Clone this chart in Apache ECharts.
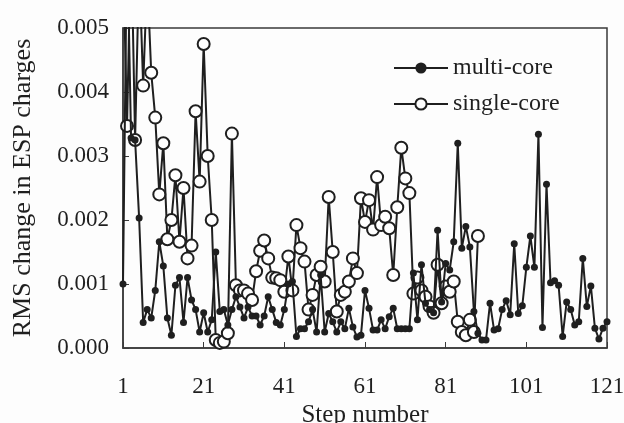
<!DOCTYPE html>
<html>
<head>
<meta charset="utf-8">
<script src="https://cdn.jsdelivr.net/npm/echarts@6/dist/echarts.min.js"></script>
<style>
  html, body { margin: 0; padding: 0; background: #fdfdfd; }
  #chart { width: 624px; height: 423px; }
</style>
</head>
<body>
<div id="chart"></div>
<script>
// RMS change per step (above 0.005 gets clipped)
var multiCore = [
  0.001, 0.0065, 0.00328, 0.00325, 0.00203, 0.0004, 0.0006, 0.00047, 0.0009, 0.00166,
  0.00128, 0.00047, 0.0002, 0.00098, 0.0011, 0.0004, 0.0011, 0.00075, 0.0006, 0.00025,
  0.00055, 0.00025, 0.00044, 0.0015, 0.00057, 0.0006, 0.00036, 0.0006, 0.0008, 0.00064,
  0.00047, 0.00064, 0.0005, 0.0005, 0.00036, 0.0005, 0.0008, 0.0006, 0.0004, 0.00036,
  0.0006, 0.001, 0.00104, 0.00018, 0.0003, 0.0003, 0.00041, 0.0006, 0.00025, 0.00114,
  0.00025, 0.00054, 0.00041, 0.00025, 0.00041, 0.0003, 0.00062, 0.00033, 0.00017, 0.0002,
  0.0009, 0.00062, 0.00028, 0.00028, 0.00044, 0.0003, 0.00049, 0.00062, 0.0003, 0.0003,
  0.0003, 0.0003, 0.00117, 0.00044, 0.0013, 0.0007, 0.0006, 0.00055, 0.00184, 0.00072,
  0.00132, 0.00122, 0.00166, 0.0032, 0.00156, 0.0019, 0.00158, 0.00057, 0.00023, 0.000125,
  0.000125, 0.0007, 0.00028, 0.0003, 0.0006, 0.00074, 0.00052, 0.00163, 0.00054, 0.00066,
  0.00126, 0.00175, 0.00126, 0.00334, 0.00032, 0.00256, 0.00102, 0.00105, 0.00098, 0.00018,
  0.00072, 0.0006, 0.00036, 0.00041, 0.0014, 0.00065, 0.00097, 0.00031, 0.00014, 0.00031,
  0.00041
];
var singleCore = [
  0.0062, 0.00347, 0.0065, 0.00325, 0.006, 0.0041, 0.0058, 0.0043, 0.0036, 0.0024,
  0.0032, 0.0017, 0.002, 0.0027, 0.00166, 0.0025, 0.0014, 0.0016, 0.0037, 0.0026,
  0.00475, 0.003, 0.002, 0.000125, 0.00008, 0.0001, 0.00023, 0.00335, 0.00098, 0.0009,
  0.0009, 0.00085, 0.00075, 0.0012, 0.00152, 0.00168, 0.0014, 0.0011, 0.00109, 0.00106,
  0.00088, 0.00143, 0.0009, 0.00192, 0.00156, 0.00135, 0.0006, 0.00083, 0.00114, 0.00127,
  0.00104, 0.00236, 0.0015, 0.00057, 0.00083, 0.00088, 0.00104, 0.0014, 0.00117, 0.00234,
  0.00197, 0.00231, 0.00185, 0.00267, 0.00192, 0.00205, 0.00187, 0.00114, 0.0022, 0.00313,
  0.00265, 0.00242, 0.00085, 0.0011, 0.0009, 0.0008, 0.00065, 0.00055, 0.0013, 0.0007,
  0.00096, 0.00088, 0.00104, 0.00041, 0.00025, 0.0002, 0.00044, 0.00025, 0.00175
];
var seriesNames = ['multi-core', 'single-core'];
var xTicks = [1, 21, 41, 61, 81, 101, 121];
var yTicks = [0, 0.001, 0.002, 0.003, 0.004, 0.005];

var FONT = '"Liberation Serif", "DejaVu Serif", serif';
var INK = '#1f1f1f';

function toPoints (arr) {
  return arr.map(function (v, i) { return [i + 1, v]; });
}

var myChart = echarts.init(document.getElementById('chart'));
var option = {
  backgroundColor: '#fdfdfd',
  animation: false,
  grid: {
    left: 123, right: 17, top: 28, bottom: 75,
    outerBoundsMode: 'none',
    containLabel: false,
    show: true,
    borderColor: '#3a3a3a',
    borderWidth: 1.5
  },
  legend: {
    data: seriesNames,
    orient: 'vertical',
    left: 388,
    top: 51,
    itemWidth: 54,
    itemHeight: 14,
    itemGap: 12,
    textStyle: { fontFamily: FONT, fontSize: 24, color: INK }
  },
  xAxis: {
    type: 'value',
    min: xTicks[0],
    max: xTicks[xTicks.length - 1],
    interval: xTicks[1] - xTicks[0],
    name: 'Step number',
    nameLocation: 'middle',
    nameGap: 43,
    nameTextStyle: { fontFamily: FONT, fontSize: 25, color: INK },
    axisLine: { lineStyle: { color: '#3a3a3a', width: 1.5 } },
    axisTick: { inside: true, length: 6, lineStyle: { color: '#3a3a3a' } },
    axisLabel: { fontFamily: FONT, fontSize: 23, color: INK, margin: 27 },
    splitLine: { show: false }
  },
  yAxis: {
    type: 'value',
    min: yTicks[0],
    max: yTicks[yTicks.length - 1],
    interval: yTicks[1] - yTicks[0],
    name: 'RMS change in ESP charges',
    nameLocation: 'middle',
    nameGap: 87,
    nameTextStyle: { fontFamily: FONT, fontSize: 26, color: INK },
    axisLine: { lineStyle: { color: '#3a3a3a', width: 1.5 } },
    axisTick: { inside: true, length: 6, lineStyle: { color: '#3a3a3a' } },
    axisLabel: {
      fontFamily: FONT, fontSize: 23, color: INK, margin: 14,
      formatter: function (v) { return v.toFixed(3); }
    },
    splitLine: { show: false }
  },
  series: [
    {
      name: seriesNames[0],
      type: 'line',
      data: toPoints(multiCore),
      symbol: 'circle',
      symbolSize: 7,
      clip: true,
      z: 3,
      itemStyle: { color: INK },
      lineStyle: { color: INK, width: 2 }
    },
    {
      name: seriesNames[1],
      type: 'line',
      data: toPoints(singleCore),
      symbol: 'emptyCircle',
      symbolSize: 12,
      clip: true,
      z: 2,
      itemStyle: { color: INK, borderWidth: 2 },
      lineStyle: { color: INK, width: 2 }
    }
  ]
};
myChart.setOption(option);
</script>
</body>
</html>
